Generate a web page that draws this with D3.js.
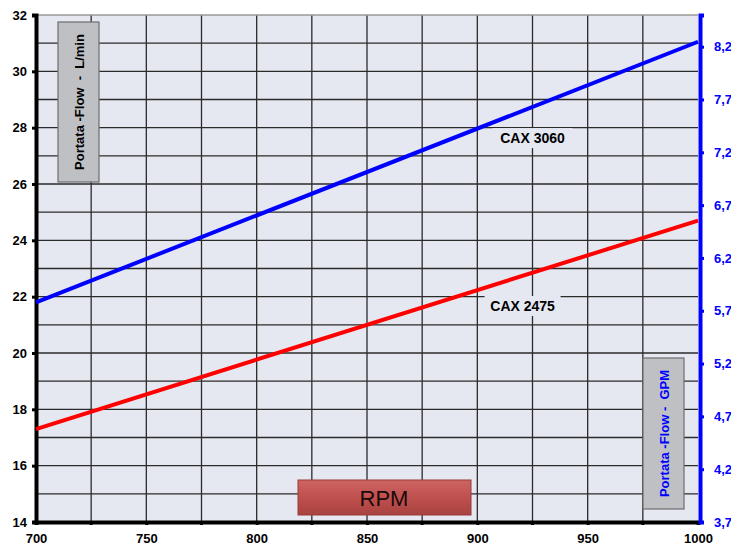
<!DOCTYPE html>
<html>
<head>
<meta charset="utf-8">
<script src="https://cdn.jsdelivr.net/npm/d3@7"></script>
<style>
  body { margin: 0; background: #fff; }
  text { font-family: "Liberation Sans", Arial, sans-serif; }
</style>
</head>
<body>
<svg width="731" height="547"></svg>
<script>
const rpm = [700, 1000];
const cax3060 = [21.8, 31.05];
const cax2475 = [17.3, 24.7];
const xTicks = [700, 750, 800, 850, 900, 950, 1000];
const yTicks = [14, 16, 18, 20, 22, 24, 26, 28, 30, 32];
const gpmTicks = [3.7, 4.2, 4.7, 5.2, 5.7, 6.2, 6.7, 7.2, 7.7, 8.2];

const svg = d3.select("svg");
const pLeft = 36, pRight = 698, pTop = 15, pBottom = 522;

const x = d3.scaleLinear().domain([700, 1000]).range([pLeft, pRight]);
const y = d3.scaleLinear().domain([14, 32]).range([pBottom, pTop]);
const y2 = d3.scaleLinear().domain([3.7, 8.5]).range([pBottom, pTop]);

// plot background
svg.append("rect")
  .attr("x", pLeft).attr("y", pTop)
  .attr("width", pRight - pLeft).attr("height", pBottom - pTop)
  .attr("fill", "#e5e8f0");

// grid
const grid = svg.append("g").attr("stroke", "#2b2b2b").attr("stroke-width", 1.3);
grid.selectAll(".gx")
  .data(d3.range(725, 1000, 25))
  .enter().append("line")
  .attr("x1", d => x(d)).attr("x2", d => x(d))
  .attr("y1", pTop).attr("y2", pBottom);
grid.selectAll(".gy")
  .data(d3.range(15, 33, 1))
  .enter().append("line")
  .attr("x1", pLeft).attr("x2", pRight)
  .attr("y1", d => y(d)).attr("y2", d => y(d))
  .attr("stroke", d => d === 32 ? "#9a9a9a" : null);

// series labels (cover grid behind text)
function seriesLabel(txt, cx, cy, w) {
  svg.append("rect")
    .attr("x", cx - w / 2).attr("y", cy - 10)
    .attr("width", w).attr("height", 20)
    .attr("fill", "#e5e8f0");
  svg.append("text")
    .attr("x", cx).attr("y", cy + 5)
    .attr("text-anchor", "middle")
    .attr("font-size", 14).attr("font-weight", "bold")
    .text(txt);
}
seriesLabel("CAX 3060", x(925), y(27.63), 80);
seriesLabel("CAX 2475", x(920.5), y(21.67), 76);

// axes
const yAxis = d3.axisLeft(y).tickValues(yTicks).tickSize(4).tickPadding(5);
const gy = svg.append("g").attr("transform", `translate(${pLeft},0)`).call(yAxis);
gy.select(".domain").attr("stroke", "#000").attr("stroke-width", 4);
gy.selectAll(".tick line").attr("stroke", "#000").attr("stroke-width", 3);
gy.selectAll("text").attr("font-size", 13).attr("font-weight", "bold").attr("fill", "#000");

const xAxis = d3.axisBottom(x).tickValues(xTicks).tickSize(3).tickPadding(9)
  .tickFormat(d3.format("d"));
const gx = svg.append("g").attr("transform", `translate(0,${pBottom})`).call(xAxis);
gx.select(".domain").attr("stroke", "#000").attr("stroke-width", 4);
gx.selectAll(".tick line").attr("stroke", "#000").attr("stroke-width", 3);
gx.selectAll("text").attr("font-size", 13).attr("font-weight", "bold").attr("fill", "#000");
svg.append("g").selectAll("line")
  .data(d3.range(725, 1000, 50))
  .enter().append("line")
  .attr("x1", d => x(d)).attr("x2", d => x(d))
  .attr("y1", pBottom).attr("y2", pBottom + 3)
  .attr("stroke", "#000").attr("stroke-width", 3);

const rAxis = d3.axisRight(y2).tickValues(gpmTicks).tickSize(4).tickPadding(10)
  .tickFormat(d => d3.format(".1f")(d).replace(".", ","));
const gr = svg.append("g").attr("transform", `translate(${pRight + 2},0)`).call(rAxis);
gr.select(".domain").attr("stroke", "#0000ff").attr("stroke-width", 4);
gr.selectAll(".tick line").attr("stroke", "#0000ff").attr("stroke-width", 3);
gr.selectAll("text").attr("font-size", 13).attr("font-weight", "bold").attr("fill", "#0000ff");

// lines
const line = d3.line().x(d => x(d[0])).y(d => y(d[1]));
svg.append("path")
  .datum(rpm.map((r, i) => [r, cax3060[i]]))
  .attr("d", line).attr("fill", "none")
  .attr("stroke", "#0000ff").attr("stroke-width", 4);
svg.append("path")
  .datum(rpm.map((r, i) => [r, cax2475[i]]))
  .attr("d", line).attr("fill", "none")
  .attr("stroke", "#ff0000").attr("stroke-width", 4);

// axis title boxes
function titleBox(txt, bx, by, bw, bh, color) {
  svg.append("rect")
    .attr("x", bx).attr("y", by).attr("width", bw).attr("height", bh)
    .attr("fill", "#bfc0c3").attr("stroke", "#6d6d6d").attr("stroke-width", 1.2);
  svg.append("text")
    .attr("transform", `translate(${bx + bw / 2 + 5},${by + bh / 2}) rotate(-90)`)
    .attr("text-anchor", "middle")
    .attr("font-size", 13).attr("font-weight", "bold")
    .attr("fill", color)
    .style("white-space", "pre")
    .text(txt);
}
titleBox("Portata -Flow  -  L/min", 58, 22, 41, 160, "#000");
titleBox("Portata -Flow -  GPM", 643, 358, 41, 151, "#0000ff");

// RPM box
const defs = svg.append("defs");
const grad = defs.append("linearGradient").attr("id", "rpmGrad")
  .attr("x1", 0).attr("y1", 0).attr("x2", 0).attr("y2", 1);
grad.append("stop").attr("offset", "0%").attr("stop-color", "#cd6563");
grad.append("stop").attr("offset", "50%").attr("stop-color", "#bf504e");
grad.append("stop").attr("offset", "100%").attr("stop-color", "#a84341");
svg.append("rect")
  .attr("x", 298).attr("y", 480).attr("width", 173).attr("height", 35)
  .attr("fill", "url(#rpmGrad)").attr("stroke", "#9b3b39").attr("stroke-width", 1);
svg.append("text")
  .attr("x", 384).attr("y", 506)
  .attr("text-anchor", "middle")
  .attr("font-size", 22).attr("fill", "#1a0a0a")
  .text("RPM");
</script>
</body>
</html>
